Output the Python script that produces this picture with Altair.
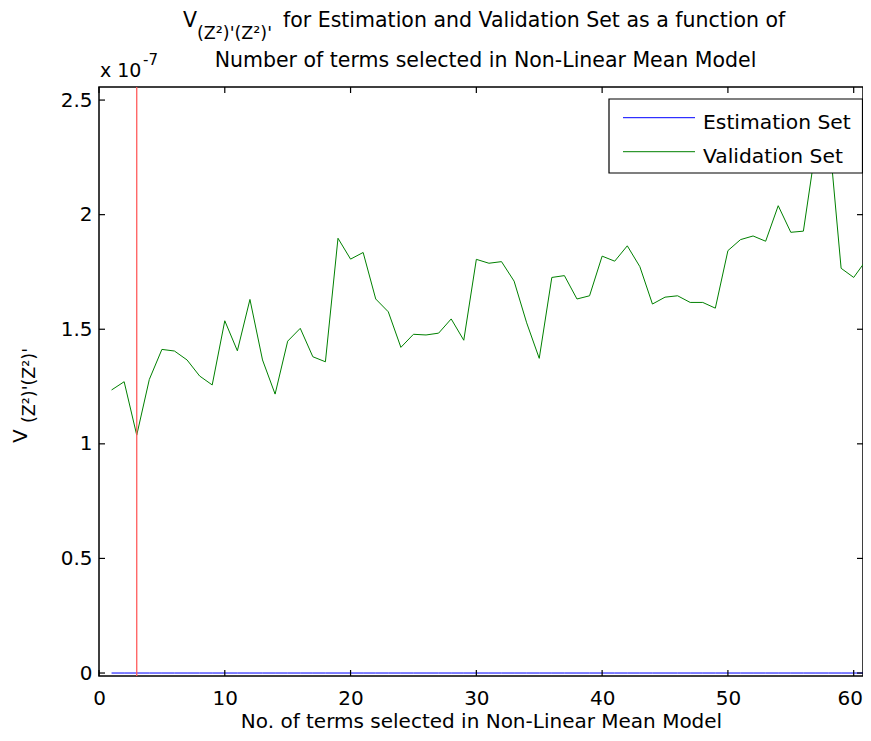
import altair as alt
import pandas as pd

FONT = "DejaVu Sans"

terms = list(range(1, 62))
validation = [
    1.235, 1.271, 1.038, 1.281, 1.412, 1.405, 1.366, 1.296, 1.257, 1.537,
    1.406, 1.630, 1.366, 1.217, 1.448, 1.504, 1.380, 1.358, 1.897, 1.806,
    1.835, 1.632, 1.576, 1.421, 1.478, 1.475, 1.483, 1.545, 1.452, 1.805,
    1.788, 1.795, 1.710, 1.528, 1.373, 1.726, 1.734, 1.632, 1.646, 1.819,
    1.797, 1.864, 1.773, 1.610, 1.640, 1.646, 1.617, 1.617, 1.592, 1.843,
    1.891, 1.907, 1.884, 2.039, 1.923, 1.928, 2.300, 2.372, 1.766, 1.726,
    1.802,
]
estimation = [
    0.0, 0.0, 0.0, 0.0, 0.0, 0.0, 0.0, 0.0, 0.0, 0.0,
    0.0, 0.0, 0.0, 0.0, 0.0, 0.0, 0.0, 0.0, 0.0, 0.0,
    0.0, 0.0, 0.0, 0.0, 0.0, 0.0, 0.0, 0.0, 0.0, 0.0,
    0.0, 0.0, 0.0, 0.0, 0.0, 0.0, 0.0, 0.0, 0.0, 0.0,
    0.0, 0.0, 0.0, 0.0, 0.0, 0.0, 0.0, 0.0, 0.0, 0.0,
    0.0, 0.0, 0.0, 0.0, 0.0, 0.0, 0.0, 0.0, 0.0, 0.0,
    0.0,
]
series_names = ["Estimation Set", "Validation Set"]
series_colors = ["#0000ff", "#008000"]
selected_terms = [3]
x_ticks = [0, 10, 20, 30, 40, 50, 60]
y_ticks = [0, 0.5, 1, 1.5, 2, 2.5]

W, H = 764, 589
xs = alt.Scale(domain=[0, 60.74], nice=False, zero=False)
ys = alt.Scale(domain=[-0.013, 2.557], nice=False, zero=False)

df = pd.DataFrame({
    "n": terms + terms,
    "v": estimation + validation,
    "set": [series_names[0]] * len(terms) + [series_names[1]] * len(terms),
})

lines = alt.Chart(df).mark_line(strokeWidth=1, clip=True).encode(
    x=alt.X("n:Q", scale=xs, axis=alt.Axis(
        values=x_ticks, title="No. of terms selected in Non-Linear Mean Model",
        domain=False, ticks=False, grid=False, labelPadding=12, titlePadding=3,
        labelFlush=False,
        labelOffset={"condition": {"test": "datum.value == 60", "value": -4}, "value": 0},
        labelFont=FONT, labelFontSize=20, labelColor="black",
        titleFont=FONT, titleFontSize=20, titleFontWeight="normal", titleColor="black")),
    y=alt.Y("v:Q", scale=ys, axis=alt.Axis(
        values=y_ticks, title="", format="~g", labelFlush=False,
        domain=False, ticks=False, grid=False, labelPadding=7,
        labelFont=FONT, labelFontSize=20, labelColor="black")),
    color=alt.Color("set:N", scale=alt.Scale(domain=series_names, range=series_colors), legend=None),
    detail="set:N",
)

red = alt.Chart(pd.DataFrame({"n": selected_terms})).mark_rule(color="#ff5c5c", strokeWidth=1.3).encode(
    x=alt.X("n:Q", scale=xs)
)

xt = pd.DataFrame({"n": x_ticks})
yt = pd.DataFrame({"v": y_ticks})
tick_style = dict(color="black", strokeWidth=1.2)
xb = alt.Chart(xt).mark_rule(**tick_style).encode(x=alt.X("n:Q", scale=xs), y=alt.value(H), y2=alt.value(H - 6))
xtp = alt.Chart(xt).mark_rule(**tick_style).encode(x=alt.X("n:Q", scale=xs), y=alt.value(0), y2=alt.value(6))
yl = alt.Chart(yt).mark_rule(**tick_style).encode(y=alt.Y("v:Q", scale=ys), x=alt.value(0), x2=alt.value(6))
yr = alt.Chart(yt).mark_rule(**tick_style).encode(y=alt.Y("v:Q", scale=ys), x=alt.value(W), x2=alt.value(W - 6))

one = alt.Data(values=[{}])


def txt(text, x, y, size, angle=0, align="left", baseline="alphabetic"):
    return alt.Chart(one).mark_text(
        font=FONT, fontSize=size, align=align, baseline=baseline, angle=angle, color="black"
    ).encode(x=alt.value(x), y=alt.value(y), text=alt.value(text))


# legend box (drawn by hand, MATLAB style)
legend_box = alt.Chart(one).mark_rect(fill="white", stroke="black", strokeWidth=1.2).encode(
    x=alt.value(510), x2=alt.value(763.5), y=alt.value(12), y2=alt.value(86)
)
leg_l1 = alt.Chart(one).mark_rule(color=series_colors[0], strokeWidth=1).encode(
    x=alt.value(524), x2=alt.value(596), y=alt.value(30.7))
leg_l2 = alt.Chart(one).mark_rule(color=series_colors[1], strokeWidth=1).encode(
    x=alt.value(524), x2=alt.value(596), y=alt.value(64.7))
leg_t1 = txt(series_names[0], 604, 42, 20.3)
leg_t2 = txt(series_names[1], 604, 75.7, 20.3)

sub = "(Z\u00b2)'(Z\u00b2)'"
title_parts = [
    txt("V", 84, -60, 20.5),
    txt(sub, 98, -48, 17.5),
    txt("for Estimation and Validation Set as a function of", 184, -60, 20.5),
    txt("Number of terms selected in Non-Linear Mean Model", 386.5, -20.3, 20.5, align="center"),
]
ylabel_parts = [
    txt("V", -72.3, 356, 20, angle=270),
    txt(sub, -64, 336, 17.5, angle=270),
]
mult = [
    txt("x 10", 1, -10.3, 19),
    txt("-7", 44, -22, 15),
]

chart = alt.layer(
    lines, red, xb, xtp, yl, yr, legend_box, leg_l1, leg_l2, leg_t1, leg_t2,
    *title_parts, *ylabel_parts, *mult
).properties(
    width=W, height=H,
    padding={"left": 91, "top": 79, "right": 0, "bottom": 57},
    autosize=alt.AutoSizeParams(type="none"),
    background="white",
).configure_view(stroke="black", strokeWidth=1.5)

chart.save("out.html", embed_options={"renderer": "svg", "actions": False})
